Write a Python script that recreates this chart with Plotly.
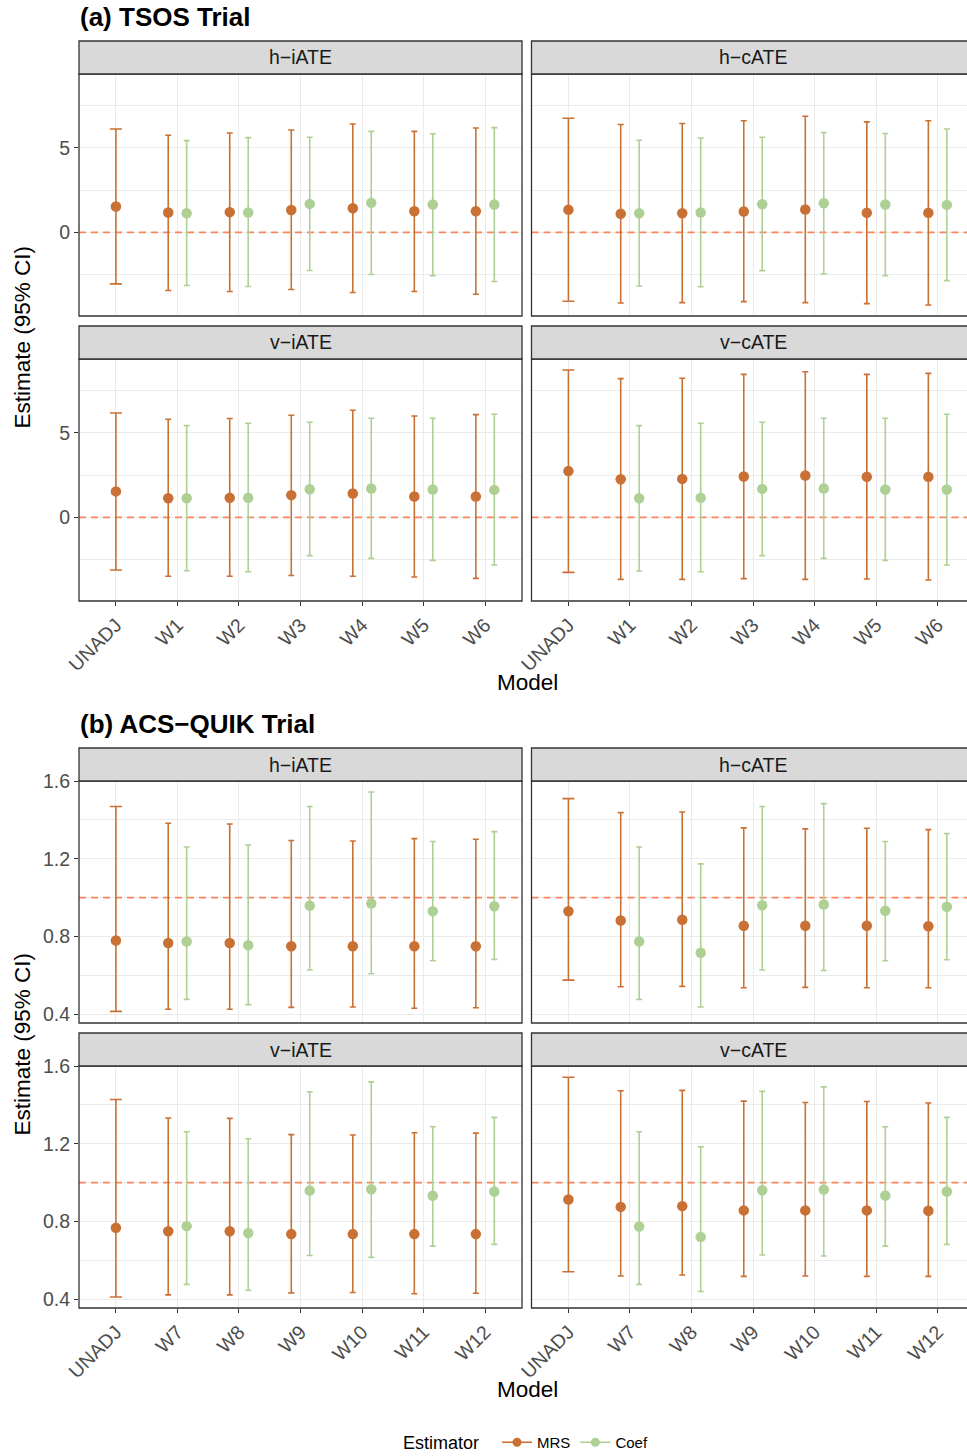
import plotly.graph_objects as go

W, H = 967, 1456

MODELS_A = ["UNADJ", "W1", "W2", "W3", "W4", "W5", "W6"]
MODELS_B = ["UNADJ", "W7", "W8", "W9", "W10", "W11", "W12"]
ESTIMANDS = ["h\u2212iATE", "h\u2212cATE", "v\u2212iATE", "v\u2212cATE"]
ESTIMATORS = ["MRS", "Coef"]

# ---------------- (a) TSOS Trial ----------------
# MRS: UNADJ, W1..W6 ; Coef: W1..W6
A_HI_MRS_EST = [1.53, 1.18, 1.20, 1.33, 1.43, 1.25, 1.25]
A_HI_MRS_LO = [-3.04, -3.43, -3.49, -3.37, -3.55, -3.49, -3.65]
A_HI_MRS_HI = [6.12, 5.75, 5.88, 6.06, 6.41, 5.98, 6.18]
A_HI_COEF_EST = [1.14, 1.18, 1.69, 1.75, 1.65, 1.65]
A_HI_COEF_LO = [-3.14, -3.20, -2.25, -2.49, -2.55, -2.90]
A_HI_COEF_HI = [5.43, 5.61, 5.63, 5.98, 5.84, 6.20]

A_HC_MRS_EST = [1.34, 1.10, 1.14, 1.24, 1.36, 1.16, 1.16]
A_HC_MRS_LO = [-4.07, -4.17, -4.15, -4.09, -4.15, -4.21, -4.29]
A_HC_MRS_HI = [6.75, 6.38, 6.44, 6.61, 6.87, 6.54, 6.61]
A_HC_COEF_EST = [1.14, 1.18, 1.67, 1.73, 1.65, 1.63]
A_HC_COEF_LO = [-3.17, -3.21, -2.26, -2.46, -2.56, -2.85]
A_HC_COEF_HI = [5.45, 5.59, 5.63, 5.91, 5.85, 6.12]

A_VI_MRS_EST = [1.54, 1.14, 1.16, 1.32, 1.42, 1.24, 1.24]
A_VI_MRS_LO = [-3.11, -3.48, -3.48, -3.43, -3.48, -3.52, -3.60]
A_VI_MRS_HI = [6.18, 5.81, 5.85, 6.04, 6.34, 6.00, 6.08]
A_VI_COEF_EST = [1.14, 1.16, 1.67, 1.71, 1.65, 1.63]
A_VI_COEF_LO = [-3.15, -3.21, -2.26, -2.42, -2.54, -2.81]
A_VI_COEF_HI = [5.43, 5.57, 5.63, 5.87, 5.87, 6.10]

A_VC_MRS_EST = [2.74, 2.26, 2.28, 2.42, 2.48, 2.40, 2.40]
A_VC_MRS_LO = [-3.25, -3.66, -3.66, -3.62, -3.66, -3.64, -3.70]
A_VC_MRS_HI = [8.72, 8.21, 8.23, 8.46, 8.62, 8.46, 8.52]
A_VC_COEF_EST = [1.14, 1.16, 1.69, 1.71, 1.65, 1.65]
A_VC_COEF_LO = [-3.17, -3.21, -2.26, -2.42, -2.54, -2.81]
A_VC_COEF_HI = [5.43, 5.57, 5.63, 5.87, 5.87, 6.10]

# ---------------- (b) ACS-QUIK Trial ----------------
B_HI_MRS_EST = [0.779, 0.766, 0.766, 0.750, 0.750, 0.750, 0.750]
B_HI_MRS_LO = [0.414, 0.425, 0.425, 0.435, 0.437, 0.430, 0.433]
B_HI_MRS_HI = [1.469, 1.383, 1.379, 1.294, 1.292, 1.304, 1.301]
B_HI_COEF_EST = [0.774, 0.755, 0.959, 0.970, 0.930, 0.956]
B_HI_COEF_LO = [0.476, 0.449, 0.627, 0.608, 0.675, 0.682]
B_HI_COEF_HI = [1.261, 1.271, 1.469, 1.544, 1.289, 1.340]

B_HC_MRS_EST = [0.930, 0.882, 0.886, 0.855, 0.855, 0.855, 0.853]
B_HC_MRS_LO = [0.575, 0.541, 0.543, 0.536, 0.538, 0.536, 0.536]
B_HC_MRS_HI = [1.510, 1.438, 1.441, 1.359, 1.354, 1.357, 1.350]
B_HC_COEF_EST = [0.774, 0.716, 0.961, 0.965, 0.932, 0.953]
B_HC_COEF_LO = [0.476, 0.437, 0.627, 0.625, 0.675, 0.680]
B_HC_COEF_HI = [1.261, 1.174, 1.469, 1.484, 1.289, 1.330]

B_VI_MRS_EST = [0.767, 0.750, 0.750, 0.735, 0.735, 0.735, 0.735]
B_VI_MRS_LO = [0.411, 0.422, 0.422, 0.432, 0.434, 0.428, 0.430]
B_VI_MRS_HI = [1.428, 1.333, 1.331, 1.247, 1.245, 1.257, 1.255]
B_VI_COEF_EST = [0.776, 0.740, 0.959, 0.966, 0.932, 0.954]
B_VI_COEF_LO = [0.476, 0.446, 0.625, 0.615, 0.673, 0.682]
B_VI_COEF_HI = [1.262, 1.226, 1.468, 1.519, 1.288, 1.336]

B_VC_MRS_EST = [0.913, 0.875, 0.879, 0.857, 0.857, 0.857, 0.855]
B_VC_MRS_LO = [0.541, 0.519, 0.524, 0.517, 0.519, 0.517, 0.517]
B_VC_MRS_HI = [1.543, 1.473, 1.475, 1.420, 1.413, 1.418, 1.410]
B_VC_COEF_EST = [0.774, 0.720, 0.961, 0.964, 0.934, 0.954]
B_VC_COEF_LO = [0.476, 0.439, 0.627, 0.622, 0.673, 0.682]
B_VC_COEF_HI = [1.262, 1.184, 1.470, 1.493, 1.288, 1.336]

REF_A = 0.0
REF_B = 1.0

# ---------------- styling ----------------
COL_MRS = "#C97034"
COL_COEF = "#AFD095"
COL_REF = "#F9855A"
GRID = "#EBEBEB"
BORDER = "#333333"
STRIP_FILL = "#D9D9D9"
FONT = "Liberation Sans, Arial, Helvetica, sans-serif"
TICK_COL = "#4D4D4D"
TICK_SIZE = 19.5

# pixel layout
COLS = [(79.0, 522.0), (531.5, 974.5)]
ROWS = {  # (strip_top, panel_top, panel_bottom)
    "a1": (41.0, 74.0, 316.0),
    "a2": (326.0, 359.0, 601.0),
    "b1": (748.0, 781.0, 1023.0),
    "b2": (1033.0, 1066.0, 1308.0),
}
N_CAT = 7
UNIT = (COLS[0][1] - COLS[0][0]) / (N_CAT - 1 + 1.2)
DODGE = 0.15


def px_x(p):
    return p / W


def px_y(p):
    return 1 - p / H


def padded_range(*lists):
    vals = [v for l in lists for v in l]
    lo, hi = min(vals), max(vals)
    pad = 0.05 * (hi - lo)
    return [lo - pad, hi + pad]


panels = [
    ("a1", 0, ESTIMANDS[0], MODELS_A, (A_HI_MRS_EST, A_HI_MRS_LO, A_HI_MRS_HI), (A_HI_COEF_EST, A_HI_COEF_LO, A_HI_COEF_HI), REF_A),
    ("a1", 1, ESTIMANDS[1], MODELS_A, (A_HC_MRS_EST, A_HC_MRS_LO, A_HC_MRS_HI), (A_HC_COEF_EST, A_HC_COEF_LO, A_HC_COEF_HI), REF_A),
    ("a2", 0, ESTIMANDS[2], MODELS_A, (A_VI_MRS_EST, A_VI_MRS_LO, A_VI_MRS_HI), (A_VI_COEF_EST, A_VI_COEF_LO, A_VI_COEF_HI), REF_A),
    ("a2", 1, ESTIMANDS[3], MODELS_A, (A_VC_MRS_EST, A_VC_MRS_LO, A_VC_MRS_HI), (A_VC_COEF_EST, A_VC_COEF_LO, A_VC_COEF_HI), REF_A),
    ("b1", 0, ESTIMANDS[0], MODELS_B, (B_HI_MRS_EST, B_HI_MRS_LO, B_HI_MRS_HI), (B_HI_COEF_EST, B_HI_COEF_LO, B_HI_COEF_HI), REF_B),
    ("b1", 1, ESTIMANDS[1], MODELS_B, (B_HC_MRS_EST, B_HC_MRS_LO, B_HC_MRS_HI), (B_HC_COEF_EST, B_HC_COEF_LO, B_HC_COEF_HI), REF_B),
    ("b2", 0, ESTIMANDS[2], MODELS_B, (B_VI_MRS_EST, B_VI_MRS_LO, B_VI_MRS_HI), (B_VI_COEF_EST, B_VI_COEF_LO, B_VI_COEF_HI), REF_B),
    ("b2", 1, ESTIMANDS[3], MODELS_B, (B_VC_MRS_EST, B_VC_MRS_LO, B_VC_MRS_HI), (B_VC_COEF_EST, B_VC_COEF_LO, B_VC_COEF_HI), REF_B),
]

yr_a = padded_range(A_HI_MRS_LO, A_HI_MRS_HI, A_HC_MRS_LO, A_HC_MRS_HI, A_VI_MRS_LO, A_VI_MRS_HI,
                    A_VC_MRS_LO, A_VC_MRS_HI, A_HI_COEF_LO, A_HI_COEF_HI, A_HC_COEF_LO, A_HC_COEF_HI,
                    A_VI_COEF_LO, A_VI_COEF_HI, A_VC_COEF_LO, A_VC_COEF_HI)
yr_b = padded_range(B_HI_MRS_LO, B_HI_MRS_HI, B_HC_MRS_LO, B_HC_MRS_HI, B_VI_MRS_LO, B_VI_MRS_HI,
                    B_VC_MRS_LO, B_VC_MRS_HI, B_HI_COEF_LO, B_HI_COEF_HI, B_HC_COEF_LO, B_HC_COEF_HI,
                    B_VI_COEF_LO, B_VI_COEF_HI, B_VC_COEF_LO, B_VC_COEF_HI)

fig = go.Figure()
layout = {}
shapes = []
annotations = []

for i, (rk, ci, label, models, mrs, coef, ref) in enumerate(panels, start=1):
    xa = "x" if i == 1 else f"x{i}"
    ya = "y" if i == 1 else f"y{i}"
    xkey = "xaxis" if i == 1 else f"xaxis{i}"
    ykey = "yaxis" if i == 1 else f"yaxis{i}"
    s_top, p_top, p_bot = ROWS[rk]
    x0, x1 = COLS[ci]
    x1c = min(x1, W)
    xmax = -0.6 + (x1c - x0) / UNIT
    bottom_row = rk in ("a2", "b2")
    left_col = ci == 0
    is_a = rk.startswith("a")

    # dashed reference line (drawn first: above grid, below data)
    fig.add_trace(go.Scatter(
        x=[-0.6, xmax], y=[ref, ref], mode="lines", xaxis=xa, yaxis=ya, showlegend=False,
        line=dict(color=COL_REF, width=1.8, dash="7px,5px"), hoverinfo="skip",
    ))

    # x positions with dodge (UNADJ has only MRS -> centered)
    n_coef = len(coef[0])
    first_dodged = len(models) - n_coef
    mrs_x = [k - DODGE if k >= first_dodged else k for k in range(len(models))]
    coef_x = [k + DODGE for k in range(first_dodged, len(models))]

    for (est, lo, hi), xs, col, name in ((mrs, mrs_x, COL_MRS, ESTIMATORS[0]),
                                         (coef, coef_x, COL_COEF, ESTIMATORS[1])):
        widths = [6 if (name == "MRS" and k < first_dodged) else 3 for k in range(len(xs))]
        for w in sorted(set(widths)):
            idx = [j for j, ww in enumerate(widths) if ww == w]
            fig.add_trace(go.Scatter(
                x=[xs[j] for j in idx], y=[est[j] for j in idx],
                mode="markers", xaxis=xa, yaxis=ya, showlegend=False,
                marker=dict(size=10.5, color=col),
                error_y=dict(type="data", symmetric=False,
                             array=[hi[j] - est[j] for j in idx],
                             arrayminus=[est[j] - lo[j] for j in idx],
                             color=col, thickness=1.6, width=w),
                hoverinfo="skip",
            ))

    yr = yr_a if is_a else yr_b
    if is_a:
        ytick = dict(tick0=0, dtick=5, tickformat="d")
        yminor = dict(tick0=0, dtick=2.5, showgrid=True, gridcolor=GRID, gridwidth=0.7, ticks="")
    else:
        ytick = dict(tick0=0.4, dtick=0.4, tickformat=".1f")
        yminor = dict(tick0=0.4, dtick=0.2, showgrid=True, gridcolor=GRID, gridwidth=0.7, ticks="")

    layout[xkey] = dict(
        domain=[px_x(x0), px_x(x1c)], anchor=ya, range=[-0.6, xmax],
        tickmode="array", tickvals=list(range(len(models))), ticktext=models,
        showticklabels=bottom_row, ticks="outside" if bottom_row else "",
        ticklen=4, tickwidth=1.1, tickcolor=BORDER, tickangle=-45,
        tickfont=dict(family=FONT, size=TICK_SIZE, color=TICK_COL),
        showgrid=True, gridcolor=GRID, gridwidth=1.3, zeroline=False, showline=False,
        automargin=False, fixedrange=True,
    )
    layout[ykey] = dict(
        domain=[px_y(p_bot), px_y(p_top)], anchor=xa, range=yr,
        tickmode="linear", **ytick,
        showticklabels=left_col, ticks="outside" if left_col else "",
        ticklen=4, tickwidth=1.1, tickcolor=BORDER,
        tickfont=dict(family=FONT, size=TICK_SIZE, color=TICK_COL),
        showgrid=True, gridcolor=GRID, gridwidth=1.3, zeroline=False, showline=False,
        minor=yminor, automargin=False, fixedrange=True,
    )

    # panel border
    shapes.append(dict(type="rect", xref="paper", yref="paper",
                       x0=px_x(x0), x1=px_x(x1), y0=px_y(p_bot), y1=px_y(p_top),
                       line=dict(color=BORDER, width=1.3), fillcolor="rgba(0,0,0,0)", layer="above"))
    # strip
    shapes.append(dict(type="rect", xref="paper", yref="paper",
                       x0=px_x(x0), x1=px_x(x1), y0=px_y(p_top), y1=px_y(s_top),
                       line=dict(color=BORDER, width=1.3), fillcolor=STRIP_FILL, layer="above"))
    annotations.append(dict(text=label, xref="paper", yref="paper",
                            x=px_x((x0 + x1) / 2), y=px_y((s_top + p_top) / 2),
                            xanchor="center", yanchor="middle", showarrow=False,
                            font=dict(family=FONT, size=19.5, color="#1A1A1A")))

# titles and axis labels
for txt, ty in (("<b>(a) TSOS Trial</b>", 17), ("<b>(b) ACS\u2212QUIK Trial</b>", 724)):
    annotations.append(dict(text=txt, xref="paper", yref="paper", x=px_x(78), y=px_y(ty),
                            xanchor="left", yanchor="middle", showarrow=False,
                            font=dict(family=FONT, size=26, color="black")))
for my in (682, 1389):
    annotations.append(dict(text="Model", xref="paper", yref="paper", x=px_x(527), y=px_y(my),
                            xanchor="center", yanchor="middle", showarrow=False,
                            font=dict(family=FONT, size=22.5, color="black")))
for ey in (337.5, 1044.5):
    annotations.append(dict(text="Estimate (95% CI)", xref="paper", yref="paper", x=px_x(22), y=px_y(ey),
                            xanchor="center", yanchor="middle", showarrow=False, textangle=-90,
                            font=dict(family=FONT, size=22.5, color="black")))

# legend entries
for name, col in ((ESTIMATORS[0], COL_MRS), (ESTIMATORS[1], COL_COEF)):
    fig.add_trace(go.Scatter(x=[None], y=[None], mode="lines+markers", name=name,
                             marker=dict(size=9, color=col), line=dict(color=col, width=1.6),
                             xaxis="x", yaxis="y"))

fig.update_layout(
    width=W, height=H,
    margin=dict(l=0, r=0, t=0, b=0, pad=0, autoexpand=False),
    paper_bgcolor="white", plot_bgcolor="white",
    shapes=shapes, annotations=annotations,
    showlegend=True,
    legend=dict(orientation="h", x=px_x(527), xanchor="center", y=px_y(1443), yanchor="middle",
                title=dict(text="Estimator  ", side="left", font=dict(family=FONT, size=18, color="black")),
                font=dict(family=FONT, size=15, color="black"),
                bgcolor="rgba(0,0,0,0)", itemwidth=30, tracegroupgap=0),
    **layout,
)

fig.write_html("out.html", config={"displayModeBar": False},
               post_script="document.body.style.margin='0px';")
